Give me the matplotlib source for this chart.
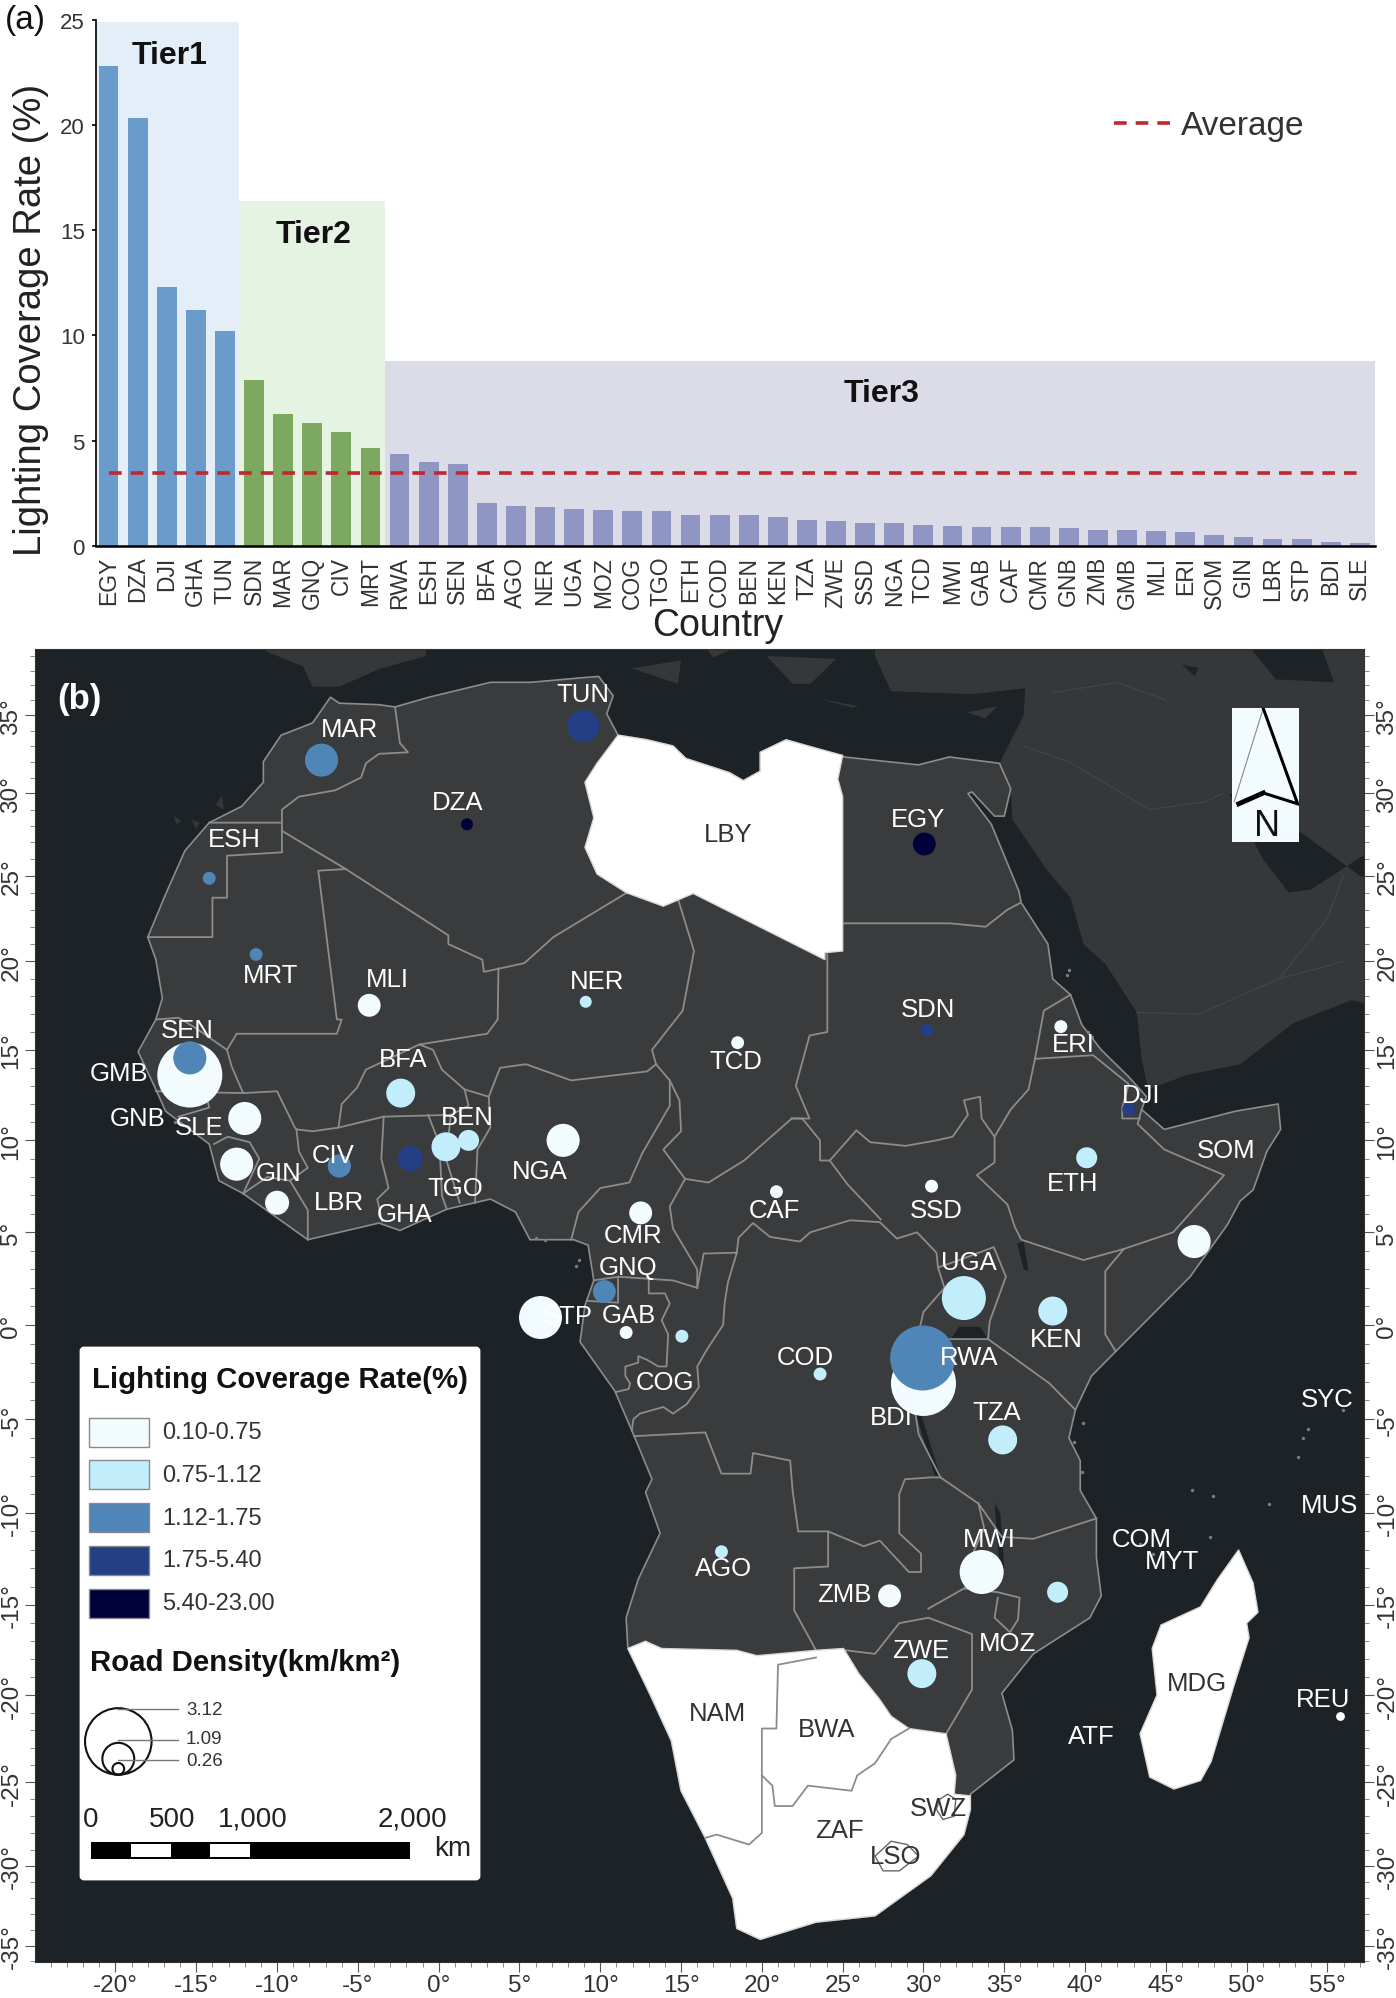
import numpy as np
import matplotlib
matplotlib.use("Agg")
import matplotlib.pyplot as plt
from matplotlib.patches import Polygon, Rectangle, Circle, FancyBboxPatch

plt.rcParams["font.family"] = ["Liberation Sans", "DejaVu Sans"]

W, H, DPI = 1396, 1999, 100

# ---------------- panel (a) data ----------------
countries = ["EGY","DZA","DJI","GHA","TUN","SDN","MAR","GNQ","CIV","MRT","RWA","ESH","SEN","BFA","AGO",
             "NER","UGA","MOZ","COG","TGO","ETH","COD","BEN","KEN","TZA","ZWE","SSD","NGA","TCD","MWI",
             "GAB","CAF","CMR","GNB","ZMB","GMB","MLI","ERI","SOM","GIN","LBR","STP","BDI","SLE"]
coverage = [22.8,20.35,12.3,11.2,10.2,7.9,6.25,5.85,5.4,4.65,4.37,4.0,3.88,2.05,1.9,
            1.83,1.77,1.71,1.67,1.67,1.46,1.46,1.46,1.4,1.24,1.18,1.08,1.08,1.02,0.96,
            0.9,0.9,0.9,0.87,0.75,0.75,0.69,0.65,0.52,0.42,0.32,0.31,0.18,0.16]
average_rate = 3.48
tier_names = ["Tier1", "Tier2", "Tier3"]
tier_sizes = [5, 5, 34]
tier_tops = [24.87, 16.38, 8.8]
tier_bar_colors = ["#6a9bcb", "#7da860", "#8f96c3"]
tier_bg_colors = ["#e3eef8", "#e4f3e2", "#dcdce9"]

# ---------------- panel (b) data: geography as lon/lat ----------------
africa_coast = [(-6.7,36.2),(-6.15,35.8),(-3.7,35.7),(-2.7,35.55),(-0.6,36.2),(3.2,37.2),(5.7,37.2),(8.75,37.5),
    (9.9,37.6),(10.8,36.3),(10.4,35.1),(11.1,33.7),(12.9,33.4),(14.5,33.0),(15.3,32.2),(18,31.3),(18.85,30.8),
    (19.9,31.4),(19.9,32.6),(21.5,33.4),(23.2,32.9),(25.1,32.3),(27.8,32.0),(29.7,31.8),(31.6,32.3),(34.7,31.9),
    (35.4,30.3),(35,28.6),(34.4,28.6),(33,30.1),(32.75,30),(34.2,28.1),(35.9,24.1),(36.05,23.4),(37.7,21),(38,19),(39.1,18.1),(39.8,16.4),
    (41,15),(42.7,13.5),(43.8,12.4),(43.5,11.7),(44.9,10.6),(49.3,11.6),(51.95,12),(52.1,10.6),(51.25,9.4),
    (50.4,7.3),(49.6,6.7),(48.8,5.4),(46.5,2.6),(41.9,-1.4),(40.4,-2.7),(39.4,-4.5),(39,-6),(39.7,-7.2),(39.7,-8.8),
    (40.7,-10.3),(40.7,-12.4),(41,-14.5),(40.3,-15.7),(36.8,-17.7),(34.85,-19.9),(35.5,-22),(35.6,-23.7),(32.9,-25.7),
    (32.9,-26.6),(32.5,-28.1),(30.45,-30.6),(27,-33.1),(23.35,-33.5),(19.9,-34.6),(18.45,-33.9),(18.2,-32),
    (16.5,-28.3),(15,-25.5),(14.4,-22.6),(13.1,-20),(11.7,-17.3),(11.6,-15.7),(12.35,-13.6),(13.7,-11.1),(12.8,-8.9),
    (13.2,-8.2),(12.1,-5.9),(10.9,-3.5),(8.75,-0.9),(9.05,1.05),(9.6,2.4),(9.25,4.3),(8.35,4.6),(5.65,4.6),(4.75,6.1),
    (3.2,6.8),(0.5,6.25),(-2.4,5.1),(-3.7,5.5),(-8.1,4.6),(-12.1,7.1),(-13.6,7.8),(-14.2,9.8),(-16.9,11.6),(-17.5,12.8),
    (-18.6,14.9),(-17.5,16.7),(-17.1,17.9),(-17.5,20.1),(-18,21.4),(-16.9,23.9),(-15.7,26.5),(-14.2,28.2),(-12.2,29.2),
    (-10.85,30.7),(-10.85,32),(-9.75,33.7),(-7.8,34.5)]

libya = [(11.1,33.7),(12.9,33.4),(14.5,33.0),(15.3,32.2),(18,31.3),(18.85,30.8),(19.9,31.4),(19.9,32.6),(21.5,33.4),
    (23.2,32.9),(25,32.4),(24.7,30.9),(25,29.8),(25,20.6),(23.9,20.5),(23.9,20.1),(15.75,23.95),(13.9,23.2),(11.6,24),
    (9.8,25.1),(9.05,26.7),(9.6,28.5),(9.05,30.7),(9.8,31.9)]

southern_white = [(11.7,-17.4),(12.8,-17),(13.8,-17.4),(18.45,-17.5),(19.7,-17.8),(23.35,-17.5),(25.05,-17.4),(26,-18.8),
    (27.25,-20.2),(28,-21.2),(29.1,-21.9),(31.4,-22.2),(32,-24.6),(31.9,-25.7),(32.9,-25.8),(32.9,-26.6),(32.5,-28.1),
    (30.45,-30.6),(27,-33.1),(23.35,-33.5),(19.9,-34.6),(18.45,-33.9),(18.2,-32),(16.5,-28.3),(15,-25.5),(14.4,-22.6),(13.1,-20)]

madagascar = [(49.5,-12),(50.4,-13.8),(50.7,-15.4),(50,-16),(50.15,-16.8),(49.2,-19.5),(47.8,-23.8),(47.15,-24.9),(45.5,-25.4),
    (44,-24.7),(43.4,-22.2),(44.45,-20),(44.15,-17.4),(44.7,-16.1),(47.15,-15.1),(48.2,-13.6)]

lesotho = [(27,-29.4),(28,-28.5),(29,-28.7),(29.7,-29.4),(28.5,-30.3),(27.5,-30.3)]
eswatini = [(31,-26),(31.5,-25.7),(32,-26),(31.9,-27),(31.2,-27.2),(30.8,-26.6)]

asia_land = [(34.7,31.9),(36.2,35),(36.3,36.8),(33,36.4),(28,36.6),(27,39),(27,42),(60,42),(60,26),(57.2,26),(60,26),(60,17),
    (56.5,17.8),(52.9,16.5),(49.6,14.2),(46.3,13.6),(43.9,12.8),(43.5,14.5),(43.2,17.1),(41.3,19.8),(39.9,21),(39.1,23.7),
    (37.6,25.4),(35.5,28.4),(35.4,30.3)]
persian_gulf = [(48.9,30),(51,26),(52.6,24),(54,24.2),(57.2,26.2),(60,25.2),(60,24),(57,25),(53.5,27.5),(50.5,29.8)]
caspian = [(49.9,40),(51.8,37.4),(55.4,37.2),(54.5,40)]
lake_van = [(46,38.4),(46.8,37.6),(47,38.2)]
europe_bits = [
    [(-10.65,39.3),(-8.4,38.3),(-7.8,36.9),(-6.15,36.9),(-3.7,38.1),(-0.8,39),(-0.8,41),(-10.65,41)],
    [(11.95,38.15),(15,38.7),(14.8,37.1)],
    [(16.2,40),(17,38.9),(18,39.4),(18,40)],
    [(20.3,39),(24.6,38.8),(23,37.1),(21.9,37.1)],
    [(23.5,36.1),(26,35.6),(25.6,35.5)],
    [(32.7,35.2),(34.6,35.6),(33.8,34.8)],
    [(-16.4,28.6),(-15.9,28.3),(-16.2,28.1)],[(-15.3,28.4),(-14.8,28.2),(-15,27.8)],[(-13.8,29.3),(-13.4,29.9),(-13.3,29)],
]
lakes = [
    [(35.8,4.4),(36.2,4.5),(36.5,2.9),(36.2,3.0)],
    [(31.7,-0.75),(34,-0.75),(33.5,-0.1),(32.2,-0.1)],
    [(29.35,-4.2),(29.7,-4.3),(31.05,-8.1),(30.7,-8)],
    [(34.4,-9.5),(34.75,-10),(35,-13),(34.7,-12.9)],
]
island_lon = [39.9,39.3,39.8,55.95,53.8,53.5,53.2,46.6,47.9,51.4,47.7,-16.3,-16,40.2,40.4,38.9,39,8.7,8.5,6.0,6.6,44.2,43.4]
island_lat = [-5.2,-6.2,-7.8,-4.5,-5.5,-6,-7,-8.8,-9.1,-9.5,-11.3,11,11.3,16.0,15.7,19.2,19.5,3.5,3.2,4.7,4.6,-12.2,-11.7]

borders = [
    [(-2.7,35.55),(-2.4,33.2),(-1.9,32.6),(-3.7,32.5),(-4.5,31.9),(-4.8,31),(-6.4,30.2),(-8.65,29.8),(-9.7,29),(-9.7,28.2)],
    [(-14.2,28.2),(-9.7,28.2),(-9.7,26.4),(-13.1,26.2),(-13.1,23.7),(-14,23.7),(-14,21.4),(-18,21.4)],
    [(-9.7,27.7),(-5.75,25.4)],
    [(-5.75,25.4),(-7.45,25.3),(-6.3,16.7),(-6,16.7),(-6.3,15.9),(-12.5,15.9),(-13.1,15)],
    [(-17.5,16.7),(-16.1,16.8),(-15,16.2),(-13.1,15),(-12.8,14.05),(-12.1,12.6),(-10,12.7),(-8.9,10.7),(-8.8,10.6)],
    [(-12.1,12.6),(-17.5,12.7)],
    [(-8.8,10.6),(-7.8,10.5),(-6.2,10.7),(-6,12),(-5.05,12.9),(-4.5,13.9),(-1.2,15.3)],
    [(-5.75,25.4),(0.6,21.5),(0.6,21),(2.7,20.1),(2.8,19.4),(5.3,19.9),(7.1,21.4),(11.65,24)],
    [(3.7,19.6),(3.65,16.7),(3,15.9),(-1.2,15.3),(-0.35,15),(0.2,13.9),(1.6,12.8),(3.1,12.4),(3.8,14),(5.4,14.2),(8.2,13.3),(12.9,13.8),(13.45,14.2)],
    [(13.45,14.2),(13.2,15),(15.1,17.2),(15.8,20.6),(14.85,23.5)],
    [(-6.2,10.7),(-3.4,11.3),(0.75,11.4),(1.85,11.9),(1.6,12.8)],
    [(-3.4,11.3),(-3.55,9),(-3.1,7.4),(-3.8,6.8),(-3.5,5.6)],
    [(-0.65,11.4),(0.05,9.8),(0.2,7),(0.5,6.25)],
    [(0.75,11.4),(0.45,9),(1.3,6.6)],
    [(3.1,12.4),(3.2,10.7),(2.4,9.5),(2.25,6.6)],
    [(-8.8,10.6),(-8.65,9.4),(-8.1,8.5),(-9.2,7.8),(-8.1,6.2),(-8.1,4.6)],
    [(-12.1,7.1),(-10.6,8),(-9.2,7.8)],
    [(-13.9,9.8),(-13.05,10.2),(-11.7,9.9),(-11.1,9),(-12.1,7.1)],
    [(-14.45,12.7),(-14.2,11.8),(-16.1,11.3)],
    [(13.45,14.2),(14.3,13.3),(14.3,11.9),(12.6,9.3),(11.8,7.7),(10,7.4),(8.65,6.1),(8.2,4.6)],
    [(14.3,13.3),(14.9,12.2),(15,10.5),(13.9,9.5),(15.25,7.9),(14.3,6.4),(14.5,5.2),(16,3),(16,2)],
    [(16,2),(14.5,2.4),(11.1,2.6),(9.6,2.4)],
    [(11.1,2.6),(11.1,1.2),(9.15,1.3)],
    [(13,2.5),(13,1.7),(14,1.7),(14.3,1.15),(13.8,0.25),(14.2,-0.5),(14.1,-2.2),(13.6,-2.2),(12.9,-1.85),(12.35,-1.65),(12.35,-2),(11.55,-2.2),(11.55,-2.7),(11.85,-3.1),(11.75,-3.4),(11,-3.55)],
    [(16,2),(16.4,3.85),(18.45,3.9),(17.9,2.3),(17.7,1.2),(17.6,0),(16.6,-1.3),(16,-2.2),(16.1,-3.3),(15.35,-4.2),(14.5,-4.7),(13.9,-4.35),(12.45,-4.7),(12.05,-5),(11.95,-5.6)],
    [(18.45,3.9),(18.55,4.7),(19.45,5.5),(20.5,4.75),(22.35,4.5),(23,5),(25.45,5.65),(27.3,5.55),(28.35,4.66),(29.6,5),(30.8,3.9),(30.9,3.1),(31.3,2),(30,0.7),(29.7,-0.4),(29.5,-4.7),(29.7,-5.8),(31.05,-8.1)],
    [(31.05,-8.1),(30.45,-8.1),(28.85,-8.2),(28.5,-9),(28.5,-11.1),(29.85,-12.2),(29.85,-13.2),(29.1,-13.2),(27.3,-11.5),(26.3,-11.8),(24.1,-11),(24.1,-12.9),(22,-13),(22,-15.3),(23.35,-17.5)],
    [(12.1,-5.9),(16.5,-5.7),(17.5,-7.9),(19.3,-7.9),(19.45,-6.8),(21.75,-7.2),(21.9,-8.8),(22.25,-11),(24.1,-11)],
    [(25.2,-17.5),(27,-17.7),(28.5,-16),(30.3,-15.7),(33,-16.6),(33,-19.7),(31.4,-22.2)],
    [(30.3,-15.2),(32.5,-14.1),(34.6,-14.3),(35.95,-14.6),(35.85,-15.8),(35.35,-16.5),(34.4,-15.7),(34.6,-14.6)],
    [(31.05,-8.1),(33.4,-9.5),(34.85,-11.3),(36.8,-11.4),(40.7,-10.3)],
    [(33.4,-9.5),(33.75,-10.8),(32.9,-12.5),(33.2,-13.5),(32.5,-14.1)],
    [(34,-0.75),(37.8,-3.1),(39.4,-4.5)],
    [(31.65,-0.75),(34,-0.75),(34.1,0.2),(35.1,2.6),(34.35,4.2),(31.9,3.4),(30.9,3.1)],
    [(24.2,8.9),(25.85,10.55),(26.7,9.9),(28.9,9.7),(30.8,10),(31.8,10.2),(32.75,11.4),(32.5,12.2),(33.5,12.4),(33.6,11.2),(34.4,10.2),(34.4,8.8),(33.3,8.1),(35.2,6.5),(35.65,5.3),(36.05,4.6),(39.9,3.5),(42.4,4.1),(41.25,2.9),(41.25,-0.5),(41.9,-1.4)],
    [(24.05,20.4),(24.05,16),(22.95,15.8),(22.1,13),(22.95,11.2),(21.85,11.2)],
    [(21.85,11.2),(22.5,11.2),(23.6,10),(23.6,8.9),(24.2,8.9),(25.3,7.6),(27.35,5.7)],
    [(21.85,11.2),(18.9,8.9),(16.7,7.7),(15.25,7.9)],
    [(42.4,4.1),(45.45,5),(48.6,8.1),(44.9,9.5),(43.25,10.9),(43.5,11.7)],
    [(39.1,18.1),(37.45,17.2),(36.9,14.5),(36.5,12.8),(35.4,11.7),(34.4,10.2)],
    [(36.9,14.5),(40.5,14.7),(42.7,13.1),(42.3,11.8),(42.3,11.2),(43.4,11.2)],
    [(25.1,22.2),(31.65,22.2),(33.85,22),(35.2,23),(36,23.4)],
]
white_borders = [
    [(23.35,-17.9),(21,-18.3),(20.9,-21.9),(20,-21.9),(20,-28),(19.2,-28.7),(17.2,-28.1),(16.5,-28.3)],
    [(20,-24.6),(20.65,-25.2),(20.8,-26.4),(21.9,-26.4),(22.85,-25.2),(25.55,-25.5),(25.9,-24.6),(27,-23.9),(28,-22.5),(29.1,-21.9)],
]
asia_borders = [
    [(43.2,17.1),(47,17),(52,19),(56,20)],
    [(36.2,33),(39,32),(44,29),(47.5,29.5),(48.5,30)],
    [(38,36.5),(42,37.2),(45,36)],
    [(52,19),(55,22.5),(56,25)],
]

circle_codes = ["TUN","MAR","DZA","ESH","MRT","MLI","NER","GMB","SEN","BFA","GNB","SLE","GIN","LBR","CIV","GHA","TGO","BEN","NGA",
                "CMR","GNQ","STP","GAB","COG","COD","BDI","RWA","UGA","KEN","TZA","MWI","MOZ","ZMB","ZWE","AGO","CAF","SSD","TCD",
                "SDN","ERI","DJI","EGY","ETH","SOM"]
circle_lon = [8.95,-7.25,1.75,-14.2,-11.3,-4.3,9.1,-15.4,-15.4,-2.35,-12,-12.5,-10,-6.15,-6.15,-1.75,0.45,1.85,7.7,
              12.5,10.25,6.3,11.6,15.05,23.6,30,29.95,32.5,38,34.9,33.6,38.3,27.9,29.9,17.5,20.9,30.5,18.5,
              30.2,38.5,42.7,30.05,40.1,46.75]
circle_lat = [34.3,32.1,28.1,24.85,20.4,17.5,17.7,13.6,14.55,12.6,11.2,8.7,6.6,8.6,8.6,9,9.65,10,10,
              6.05,1.8,0.4,-0.4,-0.6,-2.6,-3.1,-1.75,1.45,0.75,-6.1,-13.2,-14.3,-14.5,-18.8,-12.1,7.2,7.5,15.4,
              16.1,16.3,11.7,26.9,9.05,4.5]
road_density = [1.10,1.15,0.27,0.30,0.30,0.68,0.27,3.02,1.15,0.95,1.15,1.15,0.73,0.68,0.68,0.77,0.95,0.60,1.15,
                0.68,0.68,1.67,0.30,0.30,0.30,3.02,3.02,1.73,0.95,0.95,1.73,0.60,0.68,0.95,0.30,0.30,0.30,0.30,
                0.30,0.30,0.30,0.68,0.60,1.15]
lighting_class = [3,2,4,2,2,0,1,0,2,1,0,0,0,2,2,3,1,1,0,
                  0,2,0,0,1,1,0,2,1,1,1,0,1,0,1,1,0,0,0,
                  3,0,3,4,1,0]
class_colors = ["#f2fbfd", "#c2eefb", "#5085b8", "#243f85", "#00003a"]
class_labels = ["0.10-0.75", "0.75-1.12", "1.12-1.75", "1.75-5.40", "5.40-23.00"]

label_codes = ["TUN","MAR","DZA","ESH","MRT","MLI","NER","SEN","GMB","BFA","GNB","SLE","GIN","CIV","LBR","GHA","TGO","BEN","NGA",
               "CMR","GNQ","STP","GAB","COG","COD","BDI","RWA","UGA","KEN","TZA","MWI","MOZ","ZMB","ZWE","AGO",
               "EGY","SDN","TCD","ERI","DJI","SOM","ETH","CAF","SSD","ATF","REU","COM","MYT","MUS","SYC"]
label_lon = [8.95,-5.5,1.2,-12.65,-10.4,-3.2,9.8,-15.55,-19.8,-2.2,-18.6,-14.85,-9.9,-6.55,-6.15,-2.1,1,1.75,6.25,
             12,11.75,8,11.75,14,22.7,28,32.8,32.8,38.2,34.5,34.1,35.2,25.1,29.85,17.6,
             29.65,30.25,18.4,39.25,43.45,48.75,39.2,20.75,30.8,40.4,54.7,43.5,45.4,55.1,55]
label_lat = [36.4,34.1,29.5,27.2,19.2,19,18.9,16.1,13.7,14.5,11.2,10.75,8.2,9.2,6.65,6,7.4,11.3,8.35,
             4.85,3.1,0.5,0.55,-3,-1.7,-4.9,-1.7,3.4,-0.75,-4.6,-11.4,-17.1,-14.4,-17.5,-13,
             28.4,17.3,14.4,15.35,12.5,9.5,7.65,6.2,6.2,-22.3,-20.2,-11.4,-12.6,-9.6,-3.9]
dark_label_codes = ["LBY","NAM","BWA","ZAF","LSO","SWZ","MDG"]
dark_label_lon = [17.9,17.25,24,24.8,28.25,30.9,46.9]
dark_label_lat = [27.5,-21,-21.9,-27.8,-29.4,-26.5,-19.3]

lon_major = list(range(-20, 60, 5))
lat_major = list(range(-35, 40, 5))
legend_density = [3.12, 1.09, 0.26]
scale_km = [0, 500, 1000, 2000]
scale_hollow_km = [(250, 500), (750, 1000)]

SEA = "#1c2225"; LAND = "#3a3b3c"; OTHER = "#363738"; LINE = "#8c8c8c"; TXT = "#333333"
SOUTH_STRETCH = 1.018


def px_axes(fig, x0, y0, x1, y1, **kw):
    return fig.add_axes([x0 / W, 1 - y1 / H, (x1 - x0) / W, (y1 - y0) / H], **kw)


def road_diam_px(v):
    return 30.0 * np.asarray(v, dtype=float) ** 0.7


def lat_forward(d):
    s = np.sin(np.radians(d))
    return np.where(s < 0, s * SOUTH_STRETCH, s)


def lat_inverse(y):
    s = np.where(np.asarray(y) < 0, np.asarray(y) / SOUTH_STRETCH, y)
    return np.degrees(np.arcsin(np.clip(s, -1, 1)))


fig = plt.figure(figsize=(W / DPI, H / DPI), dpi=DPI, facecolor="white")

# ---------- panel (a) ----------
ax = px_axes(fig, 96, 20.7, 1375, 547)
x = np.arange(len(countries))
colors = []
edge = -0.43
start = 0
for name, n, top, bc, bg in zip(tier_names, tier_sizes, tier_tops, tier_bar_colors, tier_bg_colors):
    right = start + n - 0.5 if start + n < len(countries) else 43.52
    ax.fill_between([edge, right], 0, top, color=bg, lw=0, zorder=0)
    colors += [bc] * n
    mid = (edge + right) / 2
    ax.text(mid + 0.05, top - 1.55, name, fontsize=23, fontweight="bold", ha="center", va="center", color="#111111")
    edge = right
    start += n
ax.bar(x, coverage, width=0.68, color=colors, zorder=2)
line_avg, = ax.plot([x[0], x[-1]], [average_rate] * 2, color="#c0282d", lw=2.6, dashes=(3.5, 2.5), zorder=3)
ax.set_xlim(-0.43, 43.52)
ax.set_ylim(0, 25)
ax.set_xticks(x)
ax.set_xticklabels(countries, rotation=90, fontsize=16.5, color=TXT)
ax.tick_params(axis="x", length=0, pad=7)
ax.set_yticks([0, 5, 10, 15, 20, 25])
ax.tick_params(axis="y", labelsize=16, length=3, width=1.2, direction="out", pad=5, labelcolor=TXT)
for s in ("top", "right"):
    ax.spines[s].set_visible(False)
ax.spines["left"].set_linewidth(1.2)
ax.spines["bottom"].set_linewidth(1.8)
fig.text(31 / W, 1 - 320 / H, "Lighting Coverage Rate (%)", rotation=90, fontsize=27.5, ha="center", va="center", color="#222222")
fig.text(718 / W, 1 - 626 / H, "Country", fontsize=27, ha="center", va="center", color="#222222")
fig.text(25 / W, 1 - 20 / H, "(a)", fontsize=24, ha="center", va="center", color="#111111")
leg = ax.legend([line_avg], ["Average"], loc="center left", bbox_to_anchor=((1114 - 96) / 1279, (547 - 127) / 526.3),
                frameon=False, fontsize=24, handlelength=1.9, handletextpad=0.1, borderpad=0, borderaxespad=0)
for t in leg.get_texts():
    t.set_color(TXT)

# ---------- panel (b) ----------
m = px_axes(fig, 35, 650, 1364, 1963, facecolor=SEA)
m.set_yscale("function", functions=(lat_forward, lat_inverse))
m.set_xlim(-24.98, 57.26)
m.set_ylim(-36.07, 39.49)


def poly(pts, **kw):
    p = Polygon(pts, closed=True, **kw)
    m.add_patch(p)
    return p


def polyline(pts, **kw):
    a = np.array(pts)
    m.plot(a[:, 0], a[:, 1], **kw)


poly(asia_land, fc=OTHER, ec="none", zorder=1)
poly(persian_gulf, fc=SEA, ec="none", zorder=1.1)
poly(caspian, fc=SEA, ec="none", zorder=1.1)
poly(lake_van, fc=SEA, ec="none", zorder=1.1)
for b in asia_borders:
    polyline(b, color="#444546", lw=0.9, zorder=1.2)
for e in europe_bits:
    poly(e, fc=OTHER, ec="none", zorder=1)
poly(africa_coast, fc=LAND, ec=LINE, lw=1.2, zorder=2, joinstyle="round")
for l in lakes:
    poly(l, fc=SEA, ec="none", zorder=2.2)
for b in borders:
    polyline(b, color=LINE, lw=1.3, zorder=3, solid_joinstyle="round")
poly(libya, fc="white", ec="#d8d8d8", lw=1.0, zorder=4)
poly(southern_white, fc="white", ec="#d8d8d8", lw=1.0, zorder=4)
poly(madagascar, fc="white", ec="#d8d8d8", lw=1.0, zorder=4)
m.scatter([55.8], [-21.2], s=40, marker="o", color="white", lw=0, zorder=4)
m.scatter(island_lon, island_lat, s=6, color="#7d7d7d", lw=0, zorder=2.5)
for b in white_borders:
    polyline(b, color=LINE, lw=1.3, zorder=5)
poly(lesotho, fc="white", ec="#666666", lw=1.0, zorder=5)
poly(eswatini, fc="white", ec="#666666", lw=1.0, zorder=5)

d_pt = road_diam_px(road_density) * 72.0 / DPI
m.scatter(circle_lon, circle_lat, s=d_pt ** 2, c=[class_colors[c] for c in lighting_class], linewidths=0, zorder=6)

for c, lo, la in zip(label_codes, label_lon, label_lat):
    m.text(lo, la, c, color="white", fontsize=18.5, ha="center", va="center", zorder=7)
for c, lo, la in zip(dark_label_codes, dark_label_lon, dark_label_lat):
    m.text(lo, la, c, color=TXT, fontsize=18.5, ha="center", va="center", zorder=7)
m.text(-22.2, 36.1, "(b)", color="white", fontsize=25, fontweight="bold", ha="center", va="center", zorder=7)

m.set_xticks(lon_major)
m.set_xticklabels([f"{v}°" for v in lon_major])
m.set_xticks(np.arange(-24, 58, 1), minor=True)
m.set_yticks(lat_major)
m.set_yticklabels([f"{v}°" for v in lat_major], rotation=90, va="center")
m.set_yticks(np.arange(-36, 40, 1), minor=True)
m.yaxis.set_minor_formatter(plt.NullFormatter())
m.tick_params(axis="both", which="major", length=7, width=0.8, color="#555555", labelsize=17.5, labelcolor=TXT, pad=2)
m.tick_params(axis="both", which="minor", length=3.5, width=0.6, color="#777777")
m.tick_params(axis="y", which="both", left=True, right=True, labelleft=True, labelright=True)
for s in m.spines.values():
    s.set_linewidth(0.8)
    s.set_color("#333333")

# ---------- legend panel ----------
lg = px_axes(fig, 79, 1347, 481, 1882, facecolor="none", zorder=10)
lg.set_xlim(79, 481)
lg.set_ylim(1882, 1347)
lg.axis("off")
lg.add_patch(FancyBboxPatch((81, 1349), 398, 531, boxstyle="round,pad=0,rounding_size=3", fc="white", ec="white", lw=2))
lg.text(92, 1380, "Lighting Coverage Rate(%)", fontsize=21.2, fontweight="bold", va="center", color="#111111")
for i, (col, lab) in enumerate(zip(class_colors, class_labels)):
    y = 1418.6 + i * 42.8
    lg.add_patch(Rectangle((89, y), 60, 29, fc=col, ec="#8a8a8a", lw=1.0))
    lg.text(162, y + 14.5, lab, fontsize=17, va="center", color=TXT)
lg.text(90, 1663, "Road Density(km/km²)", fontsize=21.2, fontweight="bold", va="center", color="#111111")
base = 1775.7
line_y = [1709.6, 1740.7, 1761]
text_y = [1711, 1740, 1762]
for v, ly, ty in zip(legend_density, line_y, text_y):
    r = float(road_diam_px(v)) / 2
    lg.add_patch(Circle((118.3, base - r), r, fc="none", ec="#111111", lw=1.5))
    lg.plot([118.3, 178], [ly, ly], color="#777777", lw=1)
    lg.text(186, ty, f"{v:.2f}", fontsize=13.5, va="center", color=TXT)
kpx = (410 - 90.7) / 2000
lg.add_patch(Rectangle((90.7, 1843), 2000 * kpx, 17, fc="black", ec="none"))
for a, b in scale_hollow_km:
    lg.add_patch(Rectangle((90.7 + a * kpx, 1845), (b - a) * kpx, 13, fc="white", ec="none"))
for k in scale_km:
    lg.text(90.7 + k * kpx + (2 if k else 0), 1820, f"{k:,}", fontsize=20, ha="center", va="center", color="#222222")
lg.text(452.7, 1849, "km", fontsize=20, ha="center", va="center", color="#222222")

# ---------- north arrow ----------
na = px_axes(fig, 1232, 708.5, 1299, 843, facecolor="#f2fbfd", zorder=10)
na.set_xlim(0, 150)
na.set_ylim(310, 0)
na.set_xticks([]); na.set_yticks([])
for s in na.spines.values():
    s.set_visible(False)
na.plot([70, 5], [2, 217], color="#888888", lw=0.8)
na.plot([70, 147, 70], [2, 222, 197], color="black", lw=2.2, solid_joinstyle="miter")
na.plot([70, 15], [197, 222], color="black", lw=3.5)
na.text(78, 272, "N", fontsize=26, ha="center", va="center", color="#111111")

fig.savefig("out.png", dpi=DPI, facecolor="white")
